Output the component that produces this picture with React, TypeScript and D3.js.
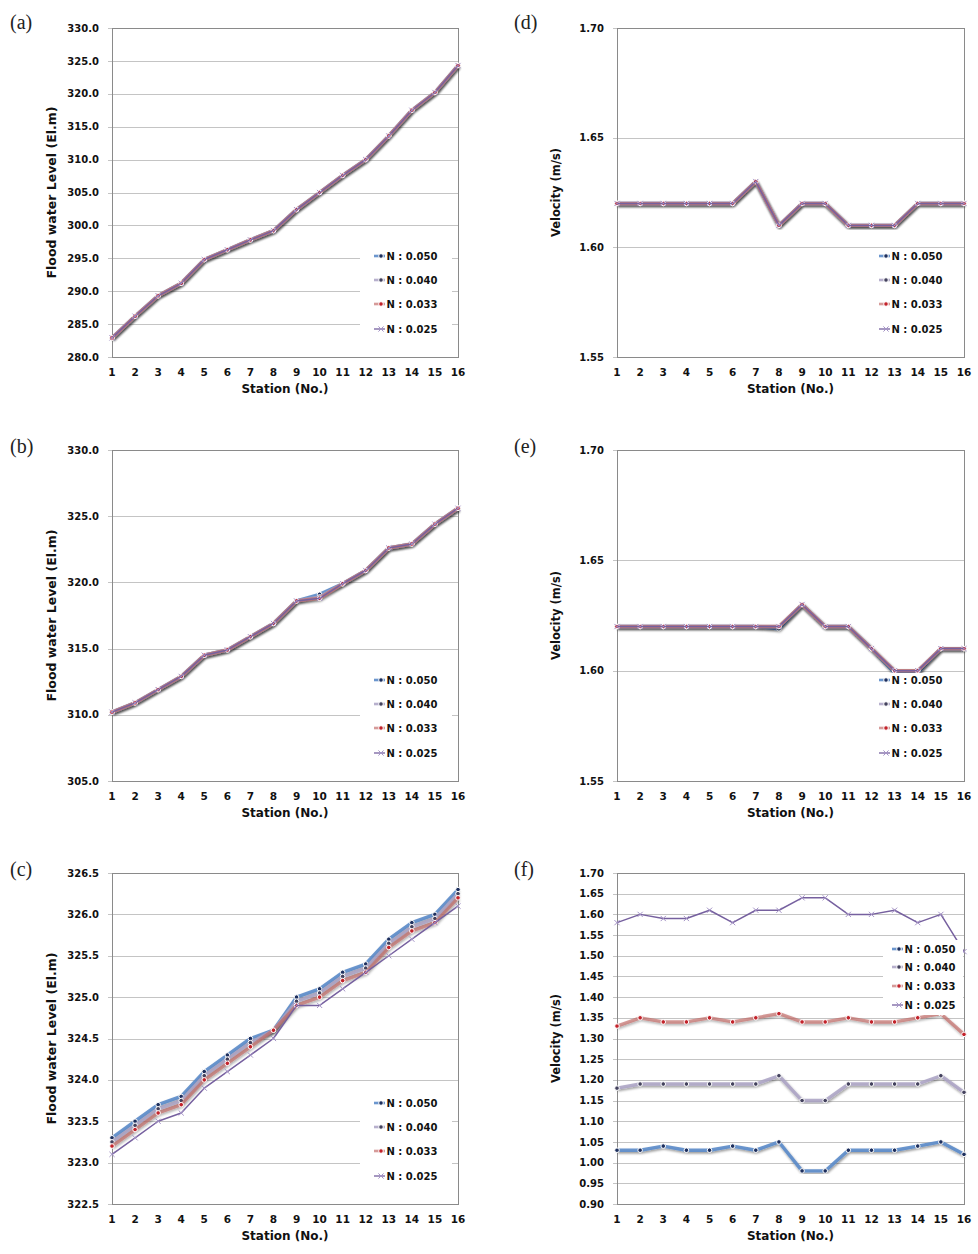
import React from "react";
import * as d3 from "d3";

// ---------------- DATA ----------------
const stations = [1, 2, 3, 4, 5, 6, 7, 8, 9, 10, 11, 12, 13, 14, 15, 16];
const seriesLabels = ["N : 0.050", "N : 0.040", "N : 0.033", "N : 0.025"];

// (a) flood water level
const levelA_050 = [282.9, 286.2, 289.3, 291.2, 294.8, 296.3, 297.8, 299.2, 302.4, 305.0, 307.6, 310.0, 313.6, 317.5, 320.2, 324.3];
const levelA_040 = [282.9, 286.2, 289.3, 291.2, 294.8, 296.3, 297.8, 299.2, 302.4, 305.0, 307.6, 310.0, 313.6, 317.5, 320.2, 324.3];
const levelA_033 = [282.9, 286.2, 289.3, 291.2, 294.8, 296.3, 297.8, 299.2, 302.4, 305.0, 307.6, 310.0, 313.6, 317.5, 320.2, 324.3];
const levelA_025 = [282.9, 286.2, 289.3, 291.2, 294.8, 296.3, 297.8, 299.2, 302.4, 305.0, 307.6, 310.0, 313.6, 317.5, 320.2, 324.3];

// (b) flood water level
const levelB_050 = [310.2, 310.9, 311.9, 312.9, 314.5, 314.9, 315.9, 316.9, 318.6, 319.1, 319.9, 320.9, 322.6, 322.9, 324.4, 325.6];
const levelB_040 = [310.2, 310.9, 311.9, 312.9, 314.5, 314.9, 315.9, 316.9, 318.6, 318.9, 319.9, 320.9, 322.6, 322.9, 324.4, 325.6];
const levelB_033 = [310.2, 310.9, 311.9, 312.9, 314.5, 314.9, 315.9, 316.9, 318.6, 318.8, 319.9, 320.9, 322.6, 322.9, 324.4, 325.6];
const levelB_025 = [310.2, 310.9, 311.9, 312.9, 314.5, 314.9, 315.9, 316.9, 318.6, 318.8, 319.9, 320.9, 322.6, 322.9, 324.4, 325.6];

// (c) flood water level
const levelC_050 = [323.3, 323.5, 323.7, 323.8, 324.1, 324.3, 324.5, 324.6, 325.0, 325.1, 325.3, 325.4, 325.7, 325.9, 326.0, 326.3];
const levelC_040 = [323.25, 323.45, 323.65, 323.75, 324.05, 324.25, 324.45, 324.6, 324.95, 325.05, 325.25, 325.35, 325.65, 325.85, 325.95, 326.25];
const levelC_033 = [323.2, 323.4, 323.6, 323.7, 324.0, 324.2, 324.4, 324.6, 324.9, 325.0, 325.2, 325.3, 325.6, 325.8, 325.9, 326.2];
const levelC_025 = [323.1, 323.3, 323.5, 323.6, 323.9, 324.1, 324.3, 324.5, 324.9, 324.9, 325.1, 325.3, 325.5, 325.7, 325.9, 326.1];

// (d) velocity
const velD_050 = [1.62, 1.62, 1.62, 1.62, 1.62, 1.62, 1.63, 1.61, 1.62, 1.62, 1.61, 1.61, 1.61, 1.62, 1.62, 1.62];
const velD_040 = [1.62, 1.62, 1.62, 1.62, 1.62, 1.62, 1.63, 1.61, 1.62, 1.62, 1.61, 1.61, 1.61, 1.62, 1.62, 1.62];
const velD_033 = [1.62, 1.62, 1.62, 1.62, 1.62, 1.62, 1.63, 1.61, 1.62, 1.62, 1.61, 1.61, 1.61, 1.62, 1.62, 1.62];
const velD_025 = [1.62, 1.62, 1.62, 1.62, 1.62, 1.62, 1.63, 1.61, 1.62, 1.62, 1.61, 1.61, 1.61, 1.62, 1.62, 1.62];

// (e) velocity
const velE_050 = [1.62, 1.62, 1.62, 1.62, 1.62, 1.62, 1.62, 1.619, 1.63, 1.62, 1.62, 1.61, 1.599, 1.599, 1.61, 1.61];
const velE_040 = [1.62, 1.62, 1.62, 1.62, 1.62, 1.62, 1.62, 1.62, 1.63, 1.62, 1.62, 1.61, 1.60, 1.60, 1.61, 1.61];
const velE_033 = [1.62, 1.62, 1.62, 1.62, 1.62, 1.62, 1.62, 1.62, 1.63, 1.62, 1.62, 1.61, 1.60, 1.60, 1.61, 1.61];
const velE_025 = [1.62, 1.62, 1.62, 1.62, 1.62, 1.62, 1.62, 1.62, 1.63, 1.62, 1.62, 1.61, 1.60, 1.60, 1.61, 1.61];

// (f) velocity
const velF_050 = [1.03, 1.03, 1.04, 1.03, 1.03, 1.04, 1.03, 1.05, 0.98, 0.98, 1.03, 1.03, 1.03, 1.04, 1.05, 1.02];
const velF_040 = [1.18, 1.19, 1.19, 1.19, 1.19, 1.19, 1.19, 1.21, 1.15, 1.15, 1.19, 1.19, 1.19, 1.19, 1.21, 1.17];
const velF_033 = [1.33, 1.35, 1.34, 1.34, 1.35, 1.34, 1.35, 1.36, 1.34, 1.34, 1.35, 1.34, 1.34, 1.35, 1.36, 1.31];
const velF_025 = [1.58, 1.60, 1.59, 1.59, 1.61, 1.58, 1.61, 1.61, 1.64, 1.64, 1.60, 1.60, 1.61, 1.58, 1.60, 1.51];

// tick values
const ticksA = [280, 285, 290, 295, 300, 305, 310, 315, 320, 325, 330];
const ticksB = [305, 310, 315, 320, 325, 330];
const ticksC = [322.5, 323, 323.5, 324, 324.5, 325, 325.5, 326, 326.5];
const ticksDE = [1.55, 1.6, 1.65, 1.7];
const ticksF = [0.9, 0.95, 1.0, 1.05, 1.1, 1.15, 1.2, 1.25, 1.3, 1.35, 1.4, 1.45, 1.5, 1.55, 1.6, 1.65, 1.7];

const levelTitle = "Flood water Level (El.m)";
const velTitle = "Velocity (m/s)";
const xTitle = "Station (No.)";

// ---------------- STYLE / LAYOUT ----------------
const seriesStyles = [
  { line: "#5b8bc9", width: 3.4, dot: "#1d2f5e", marker: "dot", opacity: 0.9 },
  { line: "#aaa2c4", width: 3.4, dot: "#44425e", marker: "dot", opacity: 0.85 },
  { line: "#c36b69", width: 3.4, dot: "#c3232b", marker: "dot", opacity: 0.68 },
  { line: "#76609f", width: 1.5, dot: "#a493c6", marker: "x", opacity: 1 },
];

const FONT = "'DejaVu Sans', Verdana, sans-serif";

const cols = [
  { x0: 112, x1: 458, letterX: 10, titleX: 52 },
  { x0: 617, x1: 964, letterX: 514, titleX: 556 },
];
const rows = [
  { y0: 28, y1: 357, letterY: 29 },
  { y0: 450, y1: 781, letterY: 453 },
  { y0: 873, y1: 1204, letterY: 876 },
];

const legendStd = [-101, -77, -53, -28];
const legendF = [-255, -237, -218, -199];

type PanelCfg = {
  letter: string;
  col: number;
  row: number;
  domain: [number, number];
  ticks: number[];
  fmt: (v: number) => string;
  title: string;
  titleSize: number;
  series: number[][];
  legendOffsets: number[];
  legendLineDx: number;
};

const panels: PanelCfg[] = [
  { letter: "(a)", col: 0, row: 0, domain: [280, 330], ticks: ticksA, fmt: d3.format(".1f"), title: levelTitle, titleSize: 12.5, series: [levelA_050, levelA_040, levelA_033, levelA_025], legendOffsets: legendStd, legendLineDx: 84 },
  { letter: "(b)", col: 0, row: 1, domain: [305, 330], ticks: ticksB, fmt: d3.format(".1f"), title: levelTitle, titleSize: 12.5, series: [levelB_050, levelB_040, levelB_033, levelB_025], legendOffsets: legendStd, legendLineDx: 84 },
  { letter: "(c)", col: 0, row: 2, domain: [322.5, 326.5], ticks: ticksC, fmt: d3.format(".1f"), title: levelTitle, titleSize: 12.5, series: [levelC_050, levelC_040, levelC_033, levelC_025], legendOffsets: legendStd, legendLineDx: 84 },
  { letter: "(d)", col: 1, row: 0, domain: [1.55, 1.7], ticks: ticksDE, fmt: d3.format(".2f"), title: velTitle, titleSize: 11.5, series: [velD_050, velD_040, velD_033, velD_025], legendOffsets: legendStd, legendLineDx: 85 },
  { letter: "(e)", col: 1, row: 1, domain: [1.55, 1.7], ticks: ticksDE, fmt: d3.format(".2f"), title: velTitle, titleSize: 11.5, series: [velE_050, velE_040, velE_033, velE_025], legendOffsets: legendStd, legendLineDx: 85 },
  { letter: "(f)", col: 1, row: 2, domain: [0.9, 1.7], ticks: ticksF, fmt: d3.format(".2f"), title: velTitle, titleSize: 11.5, series: [velF_050, velF_040, velF_033, velF_025], legendOffsets: legendF, legendLineDx: 72 },
];

function Marker({ x, y, s }: { x: number; y: number; s: any }) {
  if (s.marker === "x") {
    return (
      <path
        d={`M${x - 2.6},${y - 2.6}L${x + 2.6},${y + 2.6}M${x - 2.6},${y + 2.6}L${x + 2.6},${y - 2.6}`}
        stroke={s.dot}
        strokeWidth={1}
        fill="none"
      />
    );
  }
  return <circle cx={x} cy={y} r={2.3} fill={s.dot} stroke="#ffffff" strokeWidth={1} />;
}

function Panel({ p }: { p: PanelCfg }) {
  const c = cols[p.col];
  const r = rows[p.row];
  const x = d3.scaleLinear().domain([1, 16]).range([c.x0, c.x1]);
  const y = d3.scaleLinear().domain(p.domain).range([r.y1, r.y0]);
  const line = d3
    .line<number>()
    .x((_, i) => x(stations[i]))
    .y((d) => y(d));

  const isF = p.col === 1 && p.row === 2;
  const lx = c.x1 - p.legendLineDx;
  const ly = p.legendOffsets.map((o) => r.y1 + o);
  const boxX = lx - (isF ? 9 : 14);
  const boxRight = isF ? c.x1 - 1 : lx + 78;
  const boxTop = ly[0] - (isF ? 9 : 7);
  const boxBottom = ly[3] + (isF ? 10 : 9);

  const midY = (r.y0 + r.y1) / 2;

  return (
    <g>
      <text x={c.letterX} y={r.letterY} fontFamily="'Liberation Serif', 'Times New Roman', serif" fontSize={20} fill="#222">
        {p.letter}
      </text>
      {p.ticks.map((t) => (
        <line key={"g" + t} x1={c.x0 - 4} x2={c.x1} y1={Math.round(y(t)) + 0.5} y2={Math.round(y(t)) + 0.5} stroke="#c4c4c4" strokeWidth={1} />
      ))}
      {p.ticks.map((t) => (
        <text key={"t" + t} x={c.x0 - 13} y={y(t)} dy="0.36em" textAnchor="end" fontFamily={FONT} fontWeight="bold" fontSize={10} fill="#111">
          {p.fmt(t)}
        </text>
      ))}
      <rect x={c.x0 + 0.5} y={Math.round(r.y0) + 0.5} width={c.x1 - c.x0} height={Math.round(r.y1) - Math.round(r.y0)} fill="none" stroke="#8a8a8a" strokeWidth={1} />
      {stations.map((s) => (
        <text key={"x" + s} x={x(s)} y={r.y1 + 19} textAnchor="middle" fontFamily={FONT} fontWeight="bold" fontSize={10.5} fill="#111">
          {s}
        </text>
      ))}
      <text x={(c.x0 + c.x1) / 2} y={r.y1 + 36} textAnchor="middle" fontFamily={FONT} fontWeight="bold" fontSize={12} fill="#111">
        {xTitle}
      </text>
      <text
        transform={`translate(${c.titleX},${midY}) rotate(-90)`}
        textAnchor="middle"
        dy="0.35em"
        fontFamily={FONT}
        fontWeight="bold"
        fontSize={p.titleSize}
        fill="#111"
      >
        {p.title}
      </text>
      {p.series.map((vals, i) => {
        const s = seriesStyles[i];
        return (
          <g key={"s" + i}>
            <path
              d={line(vals) || ""}
              fill="none"
              stroke={s.line}
              strokeWidth={s.width}
              strokeOpacity={s.opacity}
              strokeLinejoin="round"
              filter={s.width > 2 ? "url(#shadow)" : undefined}
            />
            {vals.map((v, j) => (
              <Marker key={j} x={x(stations[j])} y={y(v)} s={s} />
            ))}
          </g>
        );
      })}
      <rect x={boxX} y={boxTop} width={boxRight - boxX} height={boxBottom - boxTop} fill="#ffffff" />
      {seriesLabels.map((lab, i) => {
        const s = seriesStyles[i];
        return (
          <g key={"l" + i}>
            <line x1={lx} x2={lx + 11} y1={ly[i]} y2={ly[i]} stroke={s.line} strokeOpacity={s.opacity} strokeWidth={s.width > 2 ? 2.6 : 1.3} />
            <Marker x={lx + 7} y={ly[i]} s={s} />
            <text x={lx + 12.5} y={ly[i]} dy="0.36em" fontFamily={FONT} fontWeight="bold" fontSize={10} fill="#111">
              {lab}
            </text>
          </g>
        );
      })}
    </g>
  );
}

export default function App() {
  return (
    <svg width={978} height={1254} viewBox="0 0 978 1254" style={{ display: "block", position: "absolute", left: 0, top: 0, background: "#fff" }}>
      <defs>
        <filter id="shadow" x="-5%" y="-5%" width="110%" height="115%">
          <feDropShadow dx="0.8" dy="1.6" stdDeviation="0.8" floodColor="#000" floodOpacity="0.45" />
        </filter>
      </defs>
      <rect x={0} y={0} width={978} height={1254} fill="#ffffff" />
      {panels.map((p) => (
        <Panel key={p.letter} p={p} />
      ))}
    </svg>
  );
}
